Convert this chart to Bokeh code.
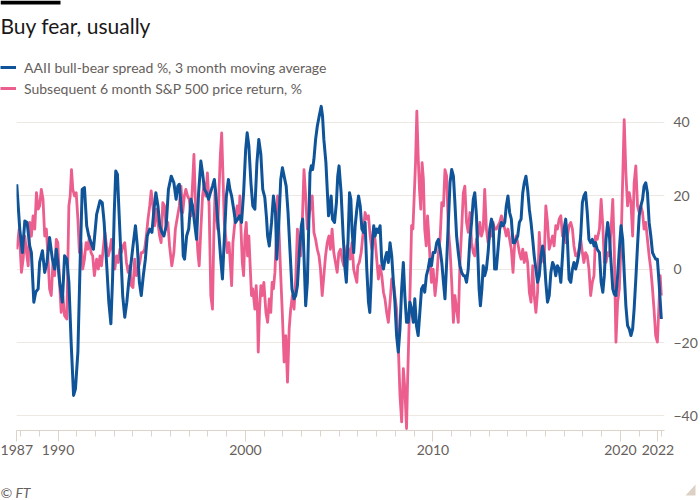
from bokeh.plotting import figure
from bokeh.layouts import column
from bokeh.models import (FixedTicker, PrintfTickFormatter, Label, Legend, LegendItem,
                          BoxAnnotation, PolyAnnotation, Range1d, Plot)
from bokeh.embed import file_html
from bokeh.resources import INLINE

# ---- data (decimal years, %) ----
blue_years = [
    1987.80, 1987.96, 1988.10, 1988.23, 1988.35, 1988.49, 1988.58, 1988.71, 1988.81, 1988.94,
    1989.02, 1989.17, 1989.29, 1989.41, 1989.55, 1989.70, 1989.82, 1989.91, 1989.99, 1990.08,
    1990.23, 1990.35, 1990.47, 1990.58, 1990.70, 1990.83, 1990.93, 1991.06, 1991.18, 1991.29,
    1991.41, 1991.53, 1991.64, 1991.76, 1991.89, 1992.06, 1992.24, 1992.36, 1992.46, 1992.59,
    1992.71, 1992.82, 1992.91, 1993.00, 1993.08, 1993.17, 1993.24, 1993.35, 1993.45, 1993.56,
    1993.67, 1993.77, 1993.88, 1994.00, 1994.13, 1994.23, 1994.34, 1994.44, 1994.55, 1994.66,
    1994.76, 1994.89, 1995.01, 1995.12, 1995.22, 1995.33, 1995.43, 1995.54, 1995.65, 1995.77,
    1995.89, 1996.04, 1996.18, 1996.30, 1996.39, 1996.47, 1996.60, 1996.68, 1996.75, 1996.86,
    1996.97, 1997.09, 1997.18, 1997.28, 1997.39, 1997.50, 1997.62, 1997.71, 1997.81, 1997.92,
    1998.03, 1998.13, 1998.24, 1998.34, 1998.41, 1998.50, 1998.59, 1998.68, 1998.77, 1998.87,
    1998.98, 1999.09, 1999.17, 1999.26, 1999.37, 1999.47, 1999.58, 1999.69, 1999.79, 1999.90,
    2000.01, 2000.09, 2000.18, 2000.29, 2000.39, 2000.50, 2000.61, 2000.71, 2000.82, 2000.92,
    2001.03, 2001.12, 2001.18, 2001.27, 2001.39, 2001.49, 2001.60, 2001.67, 2001.78, 2001.88,
    2001.97, 2002.06, 2002.17, 2002.27, 2002.38, 2002.48, 2002.59, 2002.68, 2002.77, 2002.87,
    2002.98, 2003.05, 2003.12, 2003.21, 2003.30, 2003.37, 2003.44, 2003.51, 2003.58, 2003.65,
    2003.74, 2003.83, 2003.93, 2004.04, 2004.11, 2004.18, 2004.29, 2004.36, 2004.43, 2004.50,
    2004.57, 2004.64, 2004.75, 2004.85, 2004.92, 2004.99, 2005.10, 2005.21, 2005.31, 2005.38,
    2005.47, 2005.55, 2005.62, 2005.68, 2005.77, 2005.85, 2005.94, 2006.03, 2006.12, 2006.21,
    2006.30, 2006.38, 2006.47, 2006.56, 2006.63, 2006.70, 2006.77, 2006.84, 2006.91, 2007.00,
    2007.09, 2007.18, 2007.27, 2007.36, 2007.44, 2007.53, 2007.62, 2007.71, 2007.80, 2007.89,
    2007.97, 2008.06, 2008.15, 2008.24, 2008.33, 2008.42, 2008.50, 2008.59, 2008.68, 2008.77,
    2008.86, 2008.95, 2009.03, 2009.12, 2009.21, 2009.30, 2009.39, 2009.48, 2009.56, 2009.65,
    2009.74, 2009.83, 2009.92, 2010.01, 2010.11, 2010.20, 2010.29, 2010.38, 2010.47, 2010.56,
    2010.64, 2010.73, 2010.82, 2010.91, 2011.00, 2011.09, 2011.17, 2011.26, 2011.35, 2011.44,
    2011.53, 2011.62, 2011.70, 2011.79, 2011.88, 2011.97, 2012.06, 2012.15, 2012.23, 2012.32,
    2012.39, 2012.46, 2012.53, 2012.61, 2012.68, 2012.76, 2012.85, 2012.94, 2013.03, 2013.12,
    2013.21, 2013.29, 2013.38, 2013.47, 2013.56, 2013.65, 2013.74, 2013.83, 2013.91, 2014.00,
    2014.09, 2014.18, 2014.27, 2014.36, 2014.44, 2014.52, 2014.61, 2014.70, 2014.79, 2014.87,
    2014.96, 2015.05, 2015.14, 2015.23, 2015.32, 2015.40, 2015.49, 2015.58, 2015.67, 2015.76,
    2015.85, 2015.93, 2016.02, 2016.11, 2016.20, 2016.29, 2016.38, 2016.46, 2016.55, 2016.64,
    2016.73, 2016.82, 2016.91, 2016.99, 2017.08, 2017.17, 2017.26, 2017.35, 2017.44, 2017.52,
    2017.61, 2017.70, 2017.79, 2017.88, 2017.97, 2018.05, 2018.14, 2018.23, 2018.32, 2018.41,
    2018.50, 2018.59, 2018.67, 2018.76, 2018.88, 2018.97, 2019.06, 2019.14, 2019.23, 2019.32,
    2019.41, 2019.50, 2019.59, 2019.67, 2019.76, 2019.85, 2019.94, 2020.03, 2020.12, 2020.20,
    2020.29, 2020.38, 2020.47, 2020.56, 2020.65, 2020.73, 2020.82, 2020.91, 2021.00, 2021.09,
    2021.18, 2021.26, 2021.35, 2021.44, 2021.53, 2021.62, 2021.71, 2021.79, 2021.88, 2021.97,
    2022.06, 2022.18,
]
aaii_spread = [
    23.1, 10.9, 4.5, 13.1, 12.7, 6.3, 4.5, -9.0, -6.3, -5.4,
    1.8, 5.0, -0.9, 1.8, 8.6, 2.7, 0.0, 5.4, 1.8, -3.2,
    -9.0, 3.6, 2.7, -3.6, -19.9, -34.4, -32.6, -22.6, 1.8, 21.7,
    22.2, 11.8, 9.0, 7.2, 5.4, 14.9, 18.6, 18.1, 12.7, 1.8,
    -9.0, -14.9, -2.7, 15.4, 26.7, 25.8, 17.2, 4.5, -7.2, -13.1,
    -9.0, -3.6, 0.9, 6.3, 11.8, 6.3, -3.6, -7.2, -1.8, 2.7,
    9.0, 10.9, 10.0, 16.3, 20.8, 17.2, 11.8, 10.0, 9.0, 11.8,
    21.7, 25.3, 23.5, 19.0, 22.6, 23.1, 15.0, 3.6, 2.7, 9.0,
    10.9, 19.0, 17.2, 12.7, 8.1, 20.8, 29.4, 26.2, 21.7, 20.8,
    19.0, 20.8, 22.6, 24.4, 20.8, 14.5, 9.0, 2.7, -2.7, 8.1,
    19.9, 24.4, 21.7, 19.9, 16.3, 12.7, 13.6, 14.5, 12.7, 20.8,
    32.6, 37.1, 33.5, 23.5, 17.2, 16.3, 29.0, 35.3, 31.2, 21.7,
    19.5, 14.0, 9.0, 6.3, 12.7, 19.9, 15.4, 2.7, 12.7, 24.4,
    27.6, 25.3, 22.6, 15.4, 4.5, -5.4, -8.1, -7.2, -4.5, 4.5,
    11.8, 13.6, 3.6, -10.0, -3.6, 10.9, 26.2, 28.1, 27.1, 29.9,
    35.3, 38.9, 41.6, 44.3, 41.6, 35.3, 29.0, 21.7, 14.5, 16.3,
    19.9, 13.6, 12.7, 18.1, 25.3, 28.1, 20.8, 9.0, 0.0, -3.6,
    8.0, 20.8, 19.0, 10.9, 4.5, 11.8, 16.3, 19.9, 17.2, 10.9,
    10.0, 12.7, 0.0, -9.0, -11.8, -3.6, 7.2, 11.8, 9.0, 10.9,
    10.0, 11.8, 1.8, 0.0, 2.7, 4.5, 1.8, 7.2, 3.6, -3.6,
    -9.0, -18.1, -22.6, -16.3, -5.4, 1.8, -7.2, -14.5, -14.5, -9.0,
    -10.9, -14.5, -8.1, -15.4, -18.1, -11.8, -5.4, -4.5, -6.3, -1.8,
    0.0, 2.7, 0.9, 4.5, 4.5, 7.2, 8.1, 5.4, 1.8, -3.6,
    -8.1, 1.8, 12.7, 23.5, 27.1, 25.3, 18.1, 9.0, 4.5, 0.9,
    -0.9, -1.8, -1.8, -3.6, 0.0, 8.1, 12.7, 19.0, 20.8, 14.5,
    4.5, -5.4, -10.0, -5.4, 0.9, -1.8, 0.0, 4.5, 10.9, 13.6,
    11.8, 0.0, 0.0, 5.4, 10.9, 12.7, 11.8, 12.7, 17.2, 19.9,
    15.4, 13.6, 7.2, 7.2, 8.1, 9.0, 12.7, 13.6, 20.8, 23.5,
    25.3, 21.7, 16.3, 12.7, 8.1, 3.6, 0.0, -3.6, -1.8, 3.6,
    6.3, 3.6, -3.6, -9.0, -7.2, -0.9, 1.8, 0.9, -1.8, 0.9,
    0.0, -3.6, 3.6, 10.9, 13.6, 8.1, -2.7, -3.6, 0.0, 1.8,
    0.0, 1.8, 4.5, 9.0, 18.1, 19.9, 20.8, 15.4, 8.1, 7.2,
    8.1, 6.3, 7.2, 5.4, 4.5, -3.6, -6.3, -1.8, 8.1, 12.7,
    9.0, 1.8, -5.4, -6.8, -7.2, -1.8, 5.4, 11.8, 8.1, -0.9,
    -10.0, -15.4, -16.3, -18.1, -16.3, -10.9, -2.7, 6.3, 14.5, 17.2,
    19.0, 22.6, 23.5, 20.8, 12.7, 9.0, 4.5, 3.6, 2.7, 2.7,
    -3.6, -13.6,
]

pink_years = [
    1987.80, 1987.93, 1988.05, 1988.14, 1988.23, 1988.32, 1988.41, 1988.49, 1988.58, 1988.67,
    1988.76, 1988.85, 1988.94, 1989.02, 1989.11, 1989.20, 1989.29, 1989.38, 1989.47, 1989.55,
    1989.64, 1989.73, 1989.82, 1989.91, 1989.99, 1990.08, 1990.17, 1990.26, 1990.35, 1990.47,
    1990.58, 1990.65, 1990.72, 1990.79, 1990.88, 1990.97, 1991.06, 1991.14, 1991.23, 1991.32,
    1991.41, 1991.50, 1991.59, 1991.68, 1991.76, 1991.85, 1991.94, 1992.06, 1992.15, 1992.24,
    1992.32, 1992.41, 1992.50, 1992.59, 1992.68, 1992.77, 1992.85, 1992.94, 1993.03, 1993.12,
    1993.21, 1993.30, 1993.38, 1993.47, 1993.56, 1993.65, 1993.74, 1993.83, 1993.91, 1994.00,
    1994.09, 1994.18, 1994.27, 1994.36, 1994.44, 1994.53, 1994.62, 1994.71, 1994.80, 1994.89,
    1994.97, 1995.06, 1995.15, 1995.24, 1995.33, 1995.42, 1995.50, 1995.59, 1995.68, 1995.77,
    1995.86, 1995.95, 1996.07, 1996.18, 1996.26, 1996.35, 1996.47, 1996.56, 1996.65, 1996.74,
    1996.82, 1996.91, 1997.00, 1997.09, 1997.18, 1997.25, 1997.32, 1997.39, 1997.46, 1997.53,
    1997.62, 1997.71, 1997.80, 1997.88, 1997.97, 1998.06, 1998.15, 1998.24, 1998.31, 1998.38,
    1998.45, 1998.52, 1998.59, 1998.66, 1998.73, 1998.80, 1998.87, 1998.94, 1999.03, 1999.12,
    1999.21, 1999.26, 1999.33, 1999.40, 1999.47, 1999.56, 1999.65, 1999.70, 1999.76, 1999.83,
    1999.90, 1999.97, 2000.04, 2000.11, 2000.18, 2000.25, 2000.32, 2000.39, 2000.50, 2000.57,
    2000.64, 2000.68, 2000.75, 2000.82, 2000.89, 2000.98, 2001.09, 2001.18, 2001.27, 2001.35,
    2001.42, 2001.49, 2001.57, 2001.64, 2001.71, 2001.80, 2001.88, 2001.97, 2002.06, 2002.15,
    2002.24, 2002.33, 2002.41, 2002.50, 2002.59, 2002.68, 2002.77, 2002.86, 2002.94, 2003.03,
    2003.12, 2003.21, 2003.30, 2003.39, 2003.47, 2003.56, 2003.65, 2003.74, 2003.83, 2003.92,
    2004.00, 2004.09, 2004.18, 2004.27, 2004.36, 2004.45, 2004.53, 2004.62, 2004.71, 2004.80,
    2004.89, 2004.98, 2005.07, 2005.15, 2005.24, 2005.33, 2005.42, 2005.50, 2005.59, 2005.68,
    2005.77, 2005.85, 2005.94, 2005.99, 2006.07, 2006.17, 2006.24, 2006.31, 2006.38, 2006.47,
    2006.56, 2006.65, 2006.74, 2006.83, 2006.91, 2007.00, 2007.09, 2007.18, 2007.27, 2007.36,
    2007.44, 2007.53, 2007.62, 2007.71, 2007.80, 2007.89, 2007.97, 2008.06, 2008.15, 2008.24,
    2008.33, 2008.42, 2008.50, 2008.59, 2008.65, 2008.72, 2008.79, 2008.86, 2008.93, 2009.00,
    2009.07, 2009.14, 2009.21, 2009.28, 2009.35, 2009.42, 2009.49, 2009.56, 2009.64, 2009.71,
    2009.78, 2009.85, 2009.92, 2010.01, 2010.11, 2010.20, 2010.29, 2010.38, 2010.47, 2010.56,
    2010.64, 2010.73, 2010.82, 2010.91, 2011.00, 2011.09, 2011.17, 2011.26, 2011.35, 2011.44,
    2011.53, 2011.62, 2011.70, 2011.79, 2011.88, 2011.97, 2012.06, 2012.15, 2012.23, 2012.32,
    2012.41, 2012.50, 2012.59, 2012.68, 2012.76, 2012.85, 2012.94, 2013.03, 2013.12, 2013.21,
    2013.29, 2013.38, 2013.47, 2013.56, 2013.65, 2013.74, 2013.83, 2013.91, 2014.00, 2014.09,
    2014.18, 2014.27, 2014.36, 2014.44, 2014.52, 2014.61, 2014.70, 2014.79, 2014.87, 2014.96,
    2015.05, 2015.14, 2015.23, 2015.32, 2015.40, 2015.49, 2015.58, 2015.67, 2015.76, 2015.85,
    2015.93, 2016.02, 2016.11, 2016.20, 2016.29, 2016.38, 2016.46, 2016.55, 2016.64, 2016.73,
    2016.82, 2016.91, 2016.99, 2017.08, 2017.17, 2017.26, 2017.35, 2017.44, 2017.52, 2017.61,
    2017.70, 2017.79, 2017.88, 2017.97, 2018.05, 2018.14, 2018.23, 2018.32, 2018.41, 2018.50,
    2018.59, 2018.67, 2018.76, 2018.88, 2018.97, 2019.06, 2019.14, 2019.23, 2019.32, 2019.41,
    2019.50, 2019.59, 2019.67, 2019.76, 2019.85, 2019.94, 2020.03, 2020.12, 2020.20, 2020.29,
    2020.38, 2020.47, 2020.56, 2020.65, 2020.73, 2020.82, 2020.91, 2021.00, 2021.09, 2021.18,
    2021.26, 2021.35, 2021.44, 2021.53, 2021.62, 2021.71, 2021.79, 2021.88, 2021.97, 2022.06,
    2022.12, 2022.18,
]
sp500_return = [
    5.4, 10.9, -0.9, 2.7, 9.0, 4.5, 0.9, 12.7, 9.0, 14.5,
    10.9, 20.8, 16.3, 17.2, 21.7, 19.0, 9.0, 10.9, 2.7, -5.4,
    -7.2, 1.8, -1.8, 8.1, 7.2, -3.6, -11.8, -7.2, -12.7, -13.6,
    17.2, 19.9, 27.1, 21.7, 19.9, 20.8, 13.6, 4.5, 7.2, 0.0,
    2.7, 7.2, 5.4, 9.0, 4.5, 3.6, -1.8, 2.7, 0.0, 3.6,
    0.9, 5.4, 10.0, 6.3, 3.6, 5.4, 8.1, 4.5, 0.0, 3.6,
    1.8, 5.4, 4.5, 6.3, 7.2, 1.8, -0.9, 0.9, -4.5, -5.0,
    2.7, -1.8, 0.0, 1.8, 4.5, 4.5, 5.4, 9.0, 13.6, 17.2,
    21.3, 17.2, 11.8, 16.3, 12.7, 9.0, 7.2, 18.1, 17.2, 10.9,
    12.7, 6.3, 0.9, 4.5, 10.9, 13.6, 17.2, 22.6, 15.4, 19.9,
    21.7, 19.9, 19.0, 14.5, 23.5, 31.2, 19.9, 10.9, 4.5, 0.9,
    10.9, 19.9, 23.5, 19.9, 26.2, 17.2, -7.2, -10.9, 9.0, 21.7,
    15.4, 10.9, 21.7, 31.2, 37.1, 25.3, 12.7, 9.0, 4.5, 7.2,
    0.0, -4.5, 7.2, 10.9, 14.5, 17.2, 13.6, 19.9, 10.9, 1.8,
    -1.8, 9.0, 12.7, 3.6, 9.0, 0.9, -7.2, -5.4, -10.9, -4.5,
    -11.8, -22.6, -10.9, -4.5, -7.2, -3.6, -11.8, -14.5, -8.1, -11.8,
    -3.6, -5.4, -0.9, 8.1, 19.9, 9.0, -1.8, -12.7, -25.3, -18.1,
    -30.8, -16.3, -10.9, -7.2, -10.9, -2.7, 10.9, 7.2, 3.6, 12.7,
    27.1, 19.9, 10.9, 14.5, 17.2, 19.9, 10.0, 8.1, 5.4, 3.6,
    0.0, -7.2, -1.8, 3.6, 7.2, 9.0, 5.4, 10.9, 4.5, 1.8,
    -0.9, 4.5, 5.4, 2.7, 0.9, 3.6, 6.3, 5.4, 2.7, 7.2,
    0.0, -1.8, -3.6, 0.9, 1.8, 4.5, 8.1, 11.8, 15.4, 13.6,
    14.5, 9.0, 5.4, 10.9, 8.1, 2.7, -2.7, 0.9, -1.8, -6.3,
    -8.1, -11.8, -14.5, -9.0, -2.7, -3.6, -7.2, -10.9, -20.8, -34.4,
    -41.6, -27.1, -32.6, -43.4, -29.9, -16.3, -3.6, 11.8, 10.9, 19.9,
    29.0, 43.0, 30.8, 21.7, 16.3, 29.0, 24.4, 10.9, 6.3, 14.5,
    9.0, 1.8, -3.6, 0.0, -7.2, -2.7, 4.5, 8.1, 18.1, 17.2,
    27.1, 25.3, 10.9, 5.4, -3.6, -14.5, -7.2, -10.9, -14.5, 1.8,
    10.9, 20.8, 22.6, 12.7, 10.0, 15.4, 7.2, 4.5, 3.6, 8.1,
    9.0, 12.7, 9.0, 10.9, 21.7, 10.9, 7.2, 9.0, 9.0, 12.7,
    10.9, 10.9, 11.8, 12.7, 14.5, 12.7, 10.9, 9.0, 10.9, 8.1,
    5.4, -0.9, 7.2, 9.0, 7.2, 4.5, 2.7, 5.4, 1.8, 4.5,
    1.8, -6.3, -9.0, 0.9, -7.2, -11.8, -6.3, 10.0, 1.8, 5.4,
    1.8, 17.2, 12.7, 5.4, 7.2, 9.0, 6.3, 11.8, 10.9, 13.6,
    14.5, 9.0, 10.9, 7.2, 9.0, 11.8, 12.7, 10.9, 6.3, 3.6,
    3.6, 5.4, 8.1, 4.5, 1.8, 4.5, 3.6, 0.0, -7.2, -3.6,
    -1.8, 9.0, 8.1, 10.9, 19.0, 11.8, 1.8, 1.8, 4.5, 3.6,
    10.9, 19.0, 5.4, -19.9, -9.0, -5.4, 6.3, 24.4, 40.7, 26.2,
    17.2, 20.8, 18.1, 9.0, 23.5, 28.1, 17.2, 15.4, 17.2, 15.4,
    10.9, 12.7, 8.1, 3.6, 0.0, -5.4, -10.9, -18.1, -19.9, -9.0,
    -1.8, -7.2,
]

y_ticks = [-40, -20, 0, 20, 40]
x_labelled_ticks = [1987.8, 1990, 2000, 2010, 2020, 2022]
x_minor_ticks = [y for y in range(1988, 2022) if y not in (1990, 2000, 2010, 2020)] + [2022.19]

title_text = "Buy fear, usually"
legend_labels = ["AAII bull-bear spread %, 3 month moving average",
                 "Subsequent 6 month S&P 500 price return, %"]
source_text = "© FT"

BLUE = "#0f5499"
PINK = "#eb5e8d"
GREY = "#66605c"
AXIS = "#ddd3c9"
GRID = "#eee8e2"
FONT = "Lato"

HAS_FRAME_ALIGN = "frame_align" in Plot.properties()


def no_align(f):
    if HAS_FRAME_ALIGN:
        f.frame_align = False
    return f


def blank(height):
    f = figure(width=700, height=height, output_backend="svg", toolbar_location=None,
               title=None, x_range=Range1d(0, 700), y_range=Range1d(height, 0),
               x_axis_type=None, y_axis_type=None,
               min_border_left=0, min_border_right=0, min_border_top=0, min_border_bottom=0,
               background_fill_color="white", border_fill_color="white",
               outline_line_color=None)
    f.grid.visible = False
    return no_align(f)


# ---------- header: bar, title, legend ----------
head = blank(100)
head.add_layout(BoxAnnotation(left=0, right=60, top=0, bottom=4,
                              fill_color="black", fill_alpha=1, line_color=None))
head.add_layout(Label(x=0, y=24.5, text=title_text, text_font=FONT, text_font_size="21px",
                      text_color="#1a1817", text_baseline="middle", text_align="left"))
# legend keys: the series themselves (they fall outside this header's view)
key_blue = head.line(blue_years, aaii_spread, line_color=BLUE, line_width=3)
key_pink = head.line(pink_years, sp500_return, line_color=PINK, line_width=3)
legend = Legend(items=[LegendItem(label=legend_labels[0], renderers=[key_blue]),
                       LegendItem(label=legend_labels[1], renderers=[key_pink])],
                location=(0, 2), orientation="vertical",
                glyph_width=16, glyph_height=20, label_height=20, label_standoff=8,
                spacing=1, padding=0, margin=0, border_line_color=None,
                background_fill_alpha=0, label_text_font=FONT,
                label_text_font_size="14px", label_text_color=GREY)
head.add_layout(legend)

# ---------- main chart ----------
fig = figure(width=700, height=370, output_backend="svg", toolbar_location=None,
             x_range=Range1d(1987.786, 2022.35), y_range=Range1d(-43.95, 45.9),
             y_axis_location="right",
             min_border_left=16, min_border_right=33, min_border_top=0, min_border_bottom=40,
             background_fill_color="white", border_fill_color="white", outline_line_color=None)
no_align(fig)

fig.line(pink_years, sp500_return, line_color=PINK, line_width=2.8, line_join="round")
fig.line(blue_years, aaii_spread, line_color=BLUE, line_width=3, line_join="round")

xa = fig.xaxis[0]
xa.ticker = FixedTicker(ticks=x_labelled_ticks, minor_ticks=x_minor_ticks)
xa.formatter = PrintfTickFormatter(format="%d")
xa.axis_line_color = AXIS
xa.major_tick_line_color = AXIS
xa.minor_tick_line_color = AXIS
xa.major_tick_out = 11
xa.major_tick_in = 0
xa.minor_tick_out = 6
xa.minor_tick_in = 0
xa.major_label_standoff = 3
xa.major_label_text_font = FONT
xa.major_label_text_font_size = "14px"
xa.major_label_text_color = GREY

ya = fig.yaxis[0]
ya.ticker = FixedTicker(ticks=y_ticks)
ya.axis_line_color = None
ya.major_tick_line_color = None
ya.minor_tick_line_color = None
ya.major_tick_out = 0
ya.major_tick_in = 0
ya.minor_tick_out = 0
ya.minor_tick_in = 0
ya.major_label_standoff = 9
ya.major_label_text_font = FONT
ya.major_label_text_font_size = "14px"
ya.major_label_text_color = GREY

fig.xgrid.visible = False
fig.ygrid.grid_line_color = GRID
fig.ygrid.grid_line_width = 1

# ---------- footer: source + corner mark ----------
foot = blank(30)
foot.add_layout(Label(x=0, y=21.5, text=source_text, text_font=FONT, text_font_size="14px",
                      text_font_style="italic", text_color=GREY,
                      text_baseline="middle", text_align="left"))
foot.add_layout(PolyAnnotation(xs=[685, 695, 695], ys=[5, 16, 5],
                               xs_units="screen", ys_units="screen",
                               fill_color="#ddd1c5", fill_alpha=1, line_color=None))

p = column(head, fig, foot, spacing=0)

open("out.html", "w").write(file_html(p, INLINE))
